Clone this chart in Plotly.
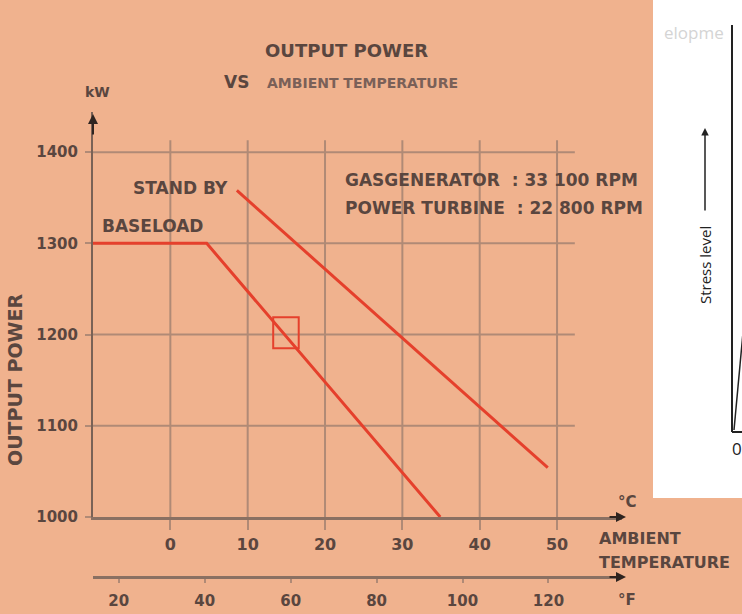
import plotly.graph_objects as go

# ---------------- data ----------------
temp_c_ticks = [0, 10, 20, 30, 40, 50]
temp_f_ticks = [20, 40, 60, 80, 100, 120]
power_ticks = [1000, 1100, 1200, 1300, 1400]

baseload_temp = [-10, 4.7, 34.9]
baseload_kw = [1300, 1300, 1000]

standby_temp = [8.6, 48.8]
standby_kw = [1358, 1054]

iso_temp = 15
iso_kw = 1200

# ---------------- styling ----------------
BG = "#f0b28e"
GRID = "#b08a76"
AXIS = "#7a6256"
TXT = "#5a463f"
RED = "#e5402c"
FONT = "DejaVu Sans, Liberation Sans, Arial, sans-serif"

XR = [-10, 58.4]
YR = [1000, 1444]


def c2f(c):
    return c * 9 / 5 + 32


# plot-area pixel frame (paper)
PL, PR, PT, PB = 93, 622, 112, 590


def px_x(px):
    return (px - PL) / (PR - PL)


def px_y(py):
    return (PB - py) / (PB - PT)


Y_DOM0 = px_y(517)

fig = go.Figure()

fig.add_trace(go.Scatter(
    x=baseload_temp, y=baseload_kw, mode="lines",
    line=dict(color=RED, width=3), showlegend=False, hoverinfo="skip"))
fig.add_trace(go.Scatter(
    x=standby_temp, y=standby_kw, mode="lines",
    line=dict(color=RED, width=3), showlegend=False, hoverinfo="skip"))
# invisible trace carrying the Fahrenheit axis
fig.add_trace(go.Scatter(
    x=temp_f_ticks, y=[power_ticks[0]] * len(temp_f_ticks), mode="markers",
    marker=dict(opacity=0), xaxis="x2", yaxis="y",
    showlegend=False, hoverinfo="skip"))

shapes = []
# gridlines
for t in temp_c_ticks:
    shapes.append(dict(type="line", xref="x", yref="y", x0=t, x1=t,
                       y0=power_ticks[0], y1=1413,
                       line=dict(color=GRID, width=2), layer="below"))
for p in power_ticks[1:]:
    shapes.append(dict(type="line", xref="x", yref="y", x0=XR[0], x1=52.3,
                       y0=p, y1=p, line=dict(color=GRID, width=2), layer="below"))
# ISO marker box
shapes.append(dict(type="rect", xref="x", yref="y",
                   x0=iso_temp - 1.7, x1=iso_temp + 1.6,
                   y0=iso_kw - 15, y1=iso_kw + 19,
                   line=dict(color=RED, width=2)))
# white panel of neighbouring figure
shapes.append(dict(type="rect", xref="paper", yref="paper",
                   x0=px_x(653), x1=px_x(760), y0=px_y(498), y1=px_y(-10),
                   fillcolor="white", line=dict(width=0), layer="above"))
shapes.append(dict(type="line", xref="paper", yref="paper",
                   x0=px_x(732), x1=px_x(732), y0=px_y(25), y1=px_y(432),
                   line=dict(color="#222", width=2), layer="above"))
shapes.append(dict(type="line", xref="paper", yref="paper",
                   x0=px_x(732), x1=px_x(745), y0=px_y(432), y1=px_y(432),
                   line=dict(color="#222", width=2), layer="above"))
shapes.append(dict(type="line", xref="paper", yref="paper",
                   x0=px_x(734), x1=px_x(746), y0=px_y(430), y1=px_y(300),
                   line=dict(color="#222", width=1.5), layer="above"))

ann = []


def text(s, px, py, size, xanchor="center", color=TXT, weight="bold",
         angle=0, family=FONT):
    ann.append(dict(text=s, xref="paper", yref="paper", x=px_x(px), y=px_y(py),
                    xanchor=xanchor, yanchor="middle", showarrow=False,
                    textangle=angle,
                    font=dict(family=family, size=size, color=color, weight=weight)))


text("OUTPUT POWER", 346, 50, 18)
text("VS", 236, 82, 17)
text("AMBIENT TEMPERATURE", 265, 83, 14, xanchor="left", color="#7a6058")
text("kW", 97, 92, 14)
text("OUTPUT POWER", 15, 380, 19, angle=-90)
text("STAND BY", 230, 188, 17, xanchor="right")
text("BASELOAD", 100, 226, 17, xanchor="left")
text("GASGENERATOR  : 33 100 RPM", 343, 180, 17, xanchor="left")
text("POWER TURBINE  : 22 800 RPM", 343, 208, 17, xanchor="left")
text("°C", 627, 502, 15)
text("AMBIENT", 597, 538, 16, xanchor="left")
text("TEMPERATURE", 597, 562, 16, xanchor="left")
text("°F", 627, 600, 15)
# neighbouring figure text
text("Stress level", 705, 265, 15, color="#222", weight="normal", angle=-90,
     family="Open Sans, DejaVu Sans, sans-serif")
text("0", 737, 448, 17, color="#222", weight="normal",
     family="Open Sans, DejaVu Sans, sans-serif")
text("elopme", 662, 32, 17, xanchor="left", color="#d4d4d4", weight="normal",
     family="Open Sans, DejaVu Sans, sans-serif")


# arrowheads
def arrow(px, py, ax, ay, color="#2e2420", width=2):
    ann.append(dict(text="", xref="paper", yref="paper", x=px_x(px), y=px_y(py),
                    showarrow=True, ax=ax, ay=ay, arrowhead=2, arrowsize=1,
                    arrowwidth=width, arrowcolor=color, standoff=0))


arrow(93, 114, 0, 22)
arrow(626, 517, -18, 0)
arrow(626, 577, -18, 0)
arrow(705, 128, 0, 84, color="#222", width=1.5)

fig.update_layout(
    width=742, height=614,
    margin=dict(l=PL, r=742 - PR, t=PT, b=614 - PB, autoexpand=False),
    paper_bgcolor=BG, plot_bgcolor=BG,
    showlegend=False,
    shapes=shapes, annotations=ann,
    xaxis=dict(range=XR, tickvals=temp_c_ticks, ticktext=[str(v) for v in temp_c_ticks],
               showgrid=False, zeroline=False, showline=True, linecolor="#8a7062",
               linewidth=3, ticks="outside", ticklen=10, tickwidth=2, tickcolor=GRID,
               ticklabelstandoff=1, anchor="y",
               tickfont=dict(family=FONT, size=16, color=TXT, weight="bold")),
    xaxis2=dict(range=[c2f(XR[0]), c2f(XR[1])], tickvals=temp_f_ticks,
                overlaying="x", anchor="free", position=px_y(577), side="bottom",
                showgrid=False, zeroline=False, showline=True, linecolor="#8a7062",
                linewidth=3, ticks="outside", ticklen=4, tickwidth=2, tickcolor=GRID,
                ticklabelstandoff=5,
                tickfont=dict(family=FONT, size=15, color=TXT, weight="bold")),
    yaxis=dict(range=YR, domain=[Y_DOM0, 1], tickvals=power_ticks,
               showgrid=False, zeroline=False, showline=True, linecolor=AXIS,
               linewidth=2, ticks="outside", ticklen=6, tickwidth=2, tickcolor=GRID,
               ticklabelstandoff=4,
               tickfont=dict(family=FONT, size=15, color=TXT, weight="bold")),
)

fig.write_html("out.html",
               config={"displayModeBar": False, "staticPlot": True},
               post_script="document.body.style.margin='0px';"
                           "document.body.style.overflow='hidden';")
